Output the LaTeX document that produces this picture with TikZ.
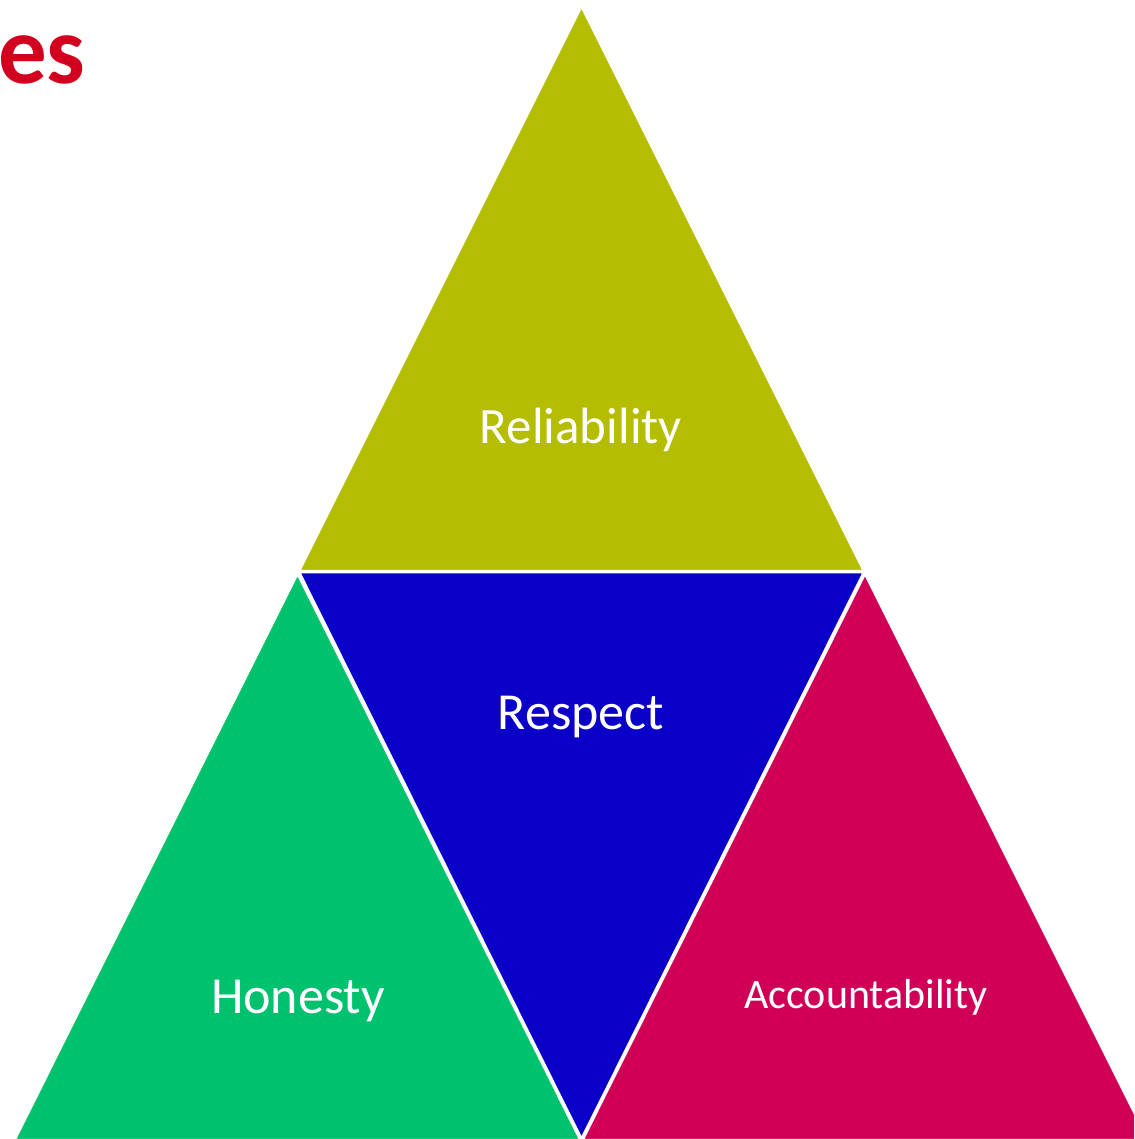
\documentclass[tikz,border=0pt]{standalone}
\usepackage{fontspec}
\setmainfont{Carlito}
\definecolor{relcol}{RGB}{181,189,0}
\definecolor{rescol}{RGB}{10,0,200}
\definecolor{honcol}{RGB}{0,194,110}
\definecolor{acccol}{RGB}{208,0,87}
\definecolor{titlered}{RGB}{210,0,30}
\begin{document}
\begin{tikzpicture}[x=1pt,y=-1pt,
  tri/.style={draw=white,line width=2.5pt,line join=miter},
  lbl/.style={text=white,inner sep=0pt,anchor=base}]
\useasboundingbox (0,0) rectangle (1134,1139);
\begin{scope}
\clip (0,0) rectangle (1134,1139);
\fill[white] (0,0) rectangle (1134,1139);
\draw[tri,fill=relcol] (581.5,6) -- (864,571) -- (299,571) -- cycle;
\draw[tri,fill=honcol] (297.5,573.5) -- (580.5,1140) -- (14.5,1140) -- cycle;
\draw[tri,fill=rescol] (299,572) -- (864,572) -- (581.5,1139) -- cycle;
\draw[tri,fill=acccol] (865,573.5) -- (1148,1140) -- (582.5,1140) -- cycle;
\node[lbl,font=\fontsize{51}{60}\selectfont] (rel) at (581,443) {Reliability};
\node[lbl,font=\fontsize{52}{62}\selectfont] (res) at (581,729) {Respect};
\node[lbl,font=\fontsize{52}{62}\selectfont] (hon) at (298,1013) {Honesty};
\node[lbl,font=\fontsize{42}{50}\selectfont] (acc) at (866,1008) {Accountability};
\node[inner sep=0pt,anchor=base west,text=titlered,font=\bfseries\fontsize{97}{112}\selectfont] (title) at (-2,84) {es};
\end{scope}
\end{tikzpicture}
\end{document}
